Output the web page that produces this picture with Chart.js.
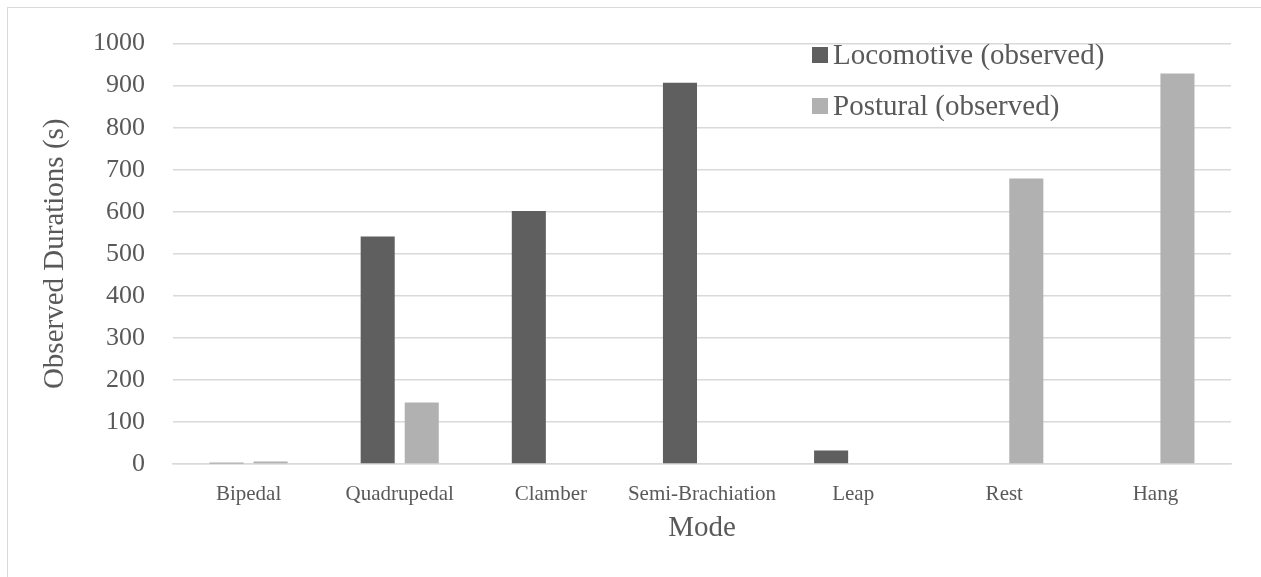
<!DOCTYPE html>
<html>
<head>
<meta charset="utf-8">
<script src="https://cdn.jsdelivr.net/npm/chart.js@4/dist/chart.umd.min.js"></script>
<style>
  html, body { margin: 0; padding: 0; background: #ffffff; }
  #wrap { width: 1261px; height: 577px; position: relative; }
</style>
</head>
<body>
<div id="wrap"><canvas id="chart" width="1261" height="577"></canvas></div>
<script>
const categories = ['Bipedal', 'Quadrupedal', 'Clamber', 'Semi-Brachiation', 'Leap', 'Rest', 'Hang'];
const locomotive = [3, 541, 602, 907, 32, 0, 0];
const postural = [6, 146, 2, 0, 0, 679, 929];
const seriesNames = ['Locomotive (observed)', 'Postural (observed)'];
const yTicks = [0, 100, 200, 300, 400, 500, 600, 700, 800, 900, 1000];

const SERIF = '"Liberation Serif", "Times New Roman", serif';
const TEXT = '#595959';

// Thin frame around the figure (top and left edges fall inside the canvas)
const framePlugin = {
  id: 'frame',
  beforeDraw(chart) {
    const ctx = chart.ctx;
    ctx.save();
    ctx.fillStyle = '#ffffff';
    ctx.fillRect(0, 0, chart.width, chart.height);
    ctx.strokeStyle = '#d9d9d9';
    ctx.lineWidth = 1;
    ctx.strokeRect(7.5, 7.5, chart.width + 20, chart.height + 20);
    ctx.restore();
  }
};

// Legend drawn inside the plot area, top right
const innerLegend = {
  id: 'innerLegend',
  afterDatasetsDraw(chart) {
    const ctx = chart.ctx;
    ctx.save();
    ctx.font = '29px ' + SERIF;
    ctx.textBaseline = 'middle';
    ctx.textAlign = 'left';
    chart.data.datasets.forEach((ds, i) => {
      const cy = 55 + i * 51;
      ctx.fillStyle = ds.backgroundColor;
      ctx.fillRect(812, cy - 8, 16, 16);
      ctx.fillStyle = TEXT;
      ctx.fillText(ds.label, 833, cy + 1);
    });
    ctx.restore();
  }
};

new Chart(document.getElementById('chart'), {
  type: 'bar',
  data: {
    labels: categories,
    datasets: [
      { label: seriesNames[0], data: locomotive, backgroundColor: '#5f5f5f' },
      { label: seriesNames[1], data: postural, backgroundColor: '#b1b1b1' }
    ]
  },
  options: {
    responsive: false,
    animation: false,
    devicePixelRatio: 1,
    layout: { padding: { left: 0, right: 30, top: 30, bottom: 0 } },
    datasets: { bar: { categoryPercentage: 0.583, barPercentage: 0.773 } },
    plugins: {
      legend: { display: false },
      tooltip: { enabled: false }
    },
    scales: {
      x: {
        grid: { display: false, drawTicks: false },
        border: { display: true, color: '#d9d9d9', width: 1.5 },
        ticks: { color: TEXT, font: { family: SERIF, size: 21 }, padding: 18, maxRotation: 0 },
        title: { display: true, text: 'Mode', color: TEXT, font: { family: SERIF, size: 29 }, padding: { top: 4, bottom: 31 } },
        afterFit(scale) { scale.height = 113; }
      },
      y: {
        min: 0,
        max: 1000,
        afterBuildTicks(scale) { scale.ticks = yTicks.map(v => ({ value: v })); },
        grid: { color: '#d9d9d9', lineWidth: 1.5, drawTicks: false },
        border: { display: false },
        ticks: { color: TEXT, font: { family: SERIF, size: 26 }, padding: 28, callback: v => String(v) },
        title: { display: true, text: 'Observed Durations (s)', color: TEXT, font: { family: SERIF, size: 29 }, padding: { top: 38, bottom: 0 } },
        afterFit(scale) { scale.width = 173; }
      }
    }
  },
  plugins: [framePlugin, innerLegend]
});
</script>
</body>
</html>
